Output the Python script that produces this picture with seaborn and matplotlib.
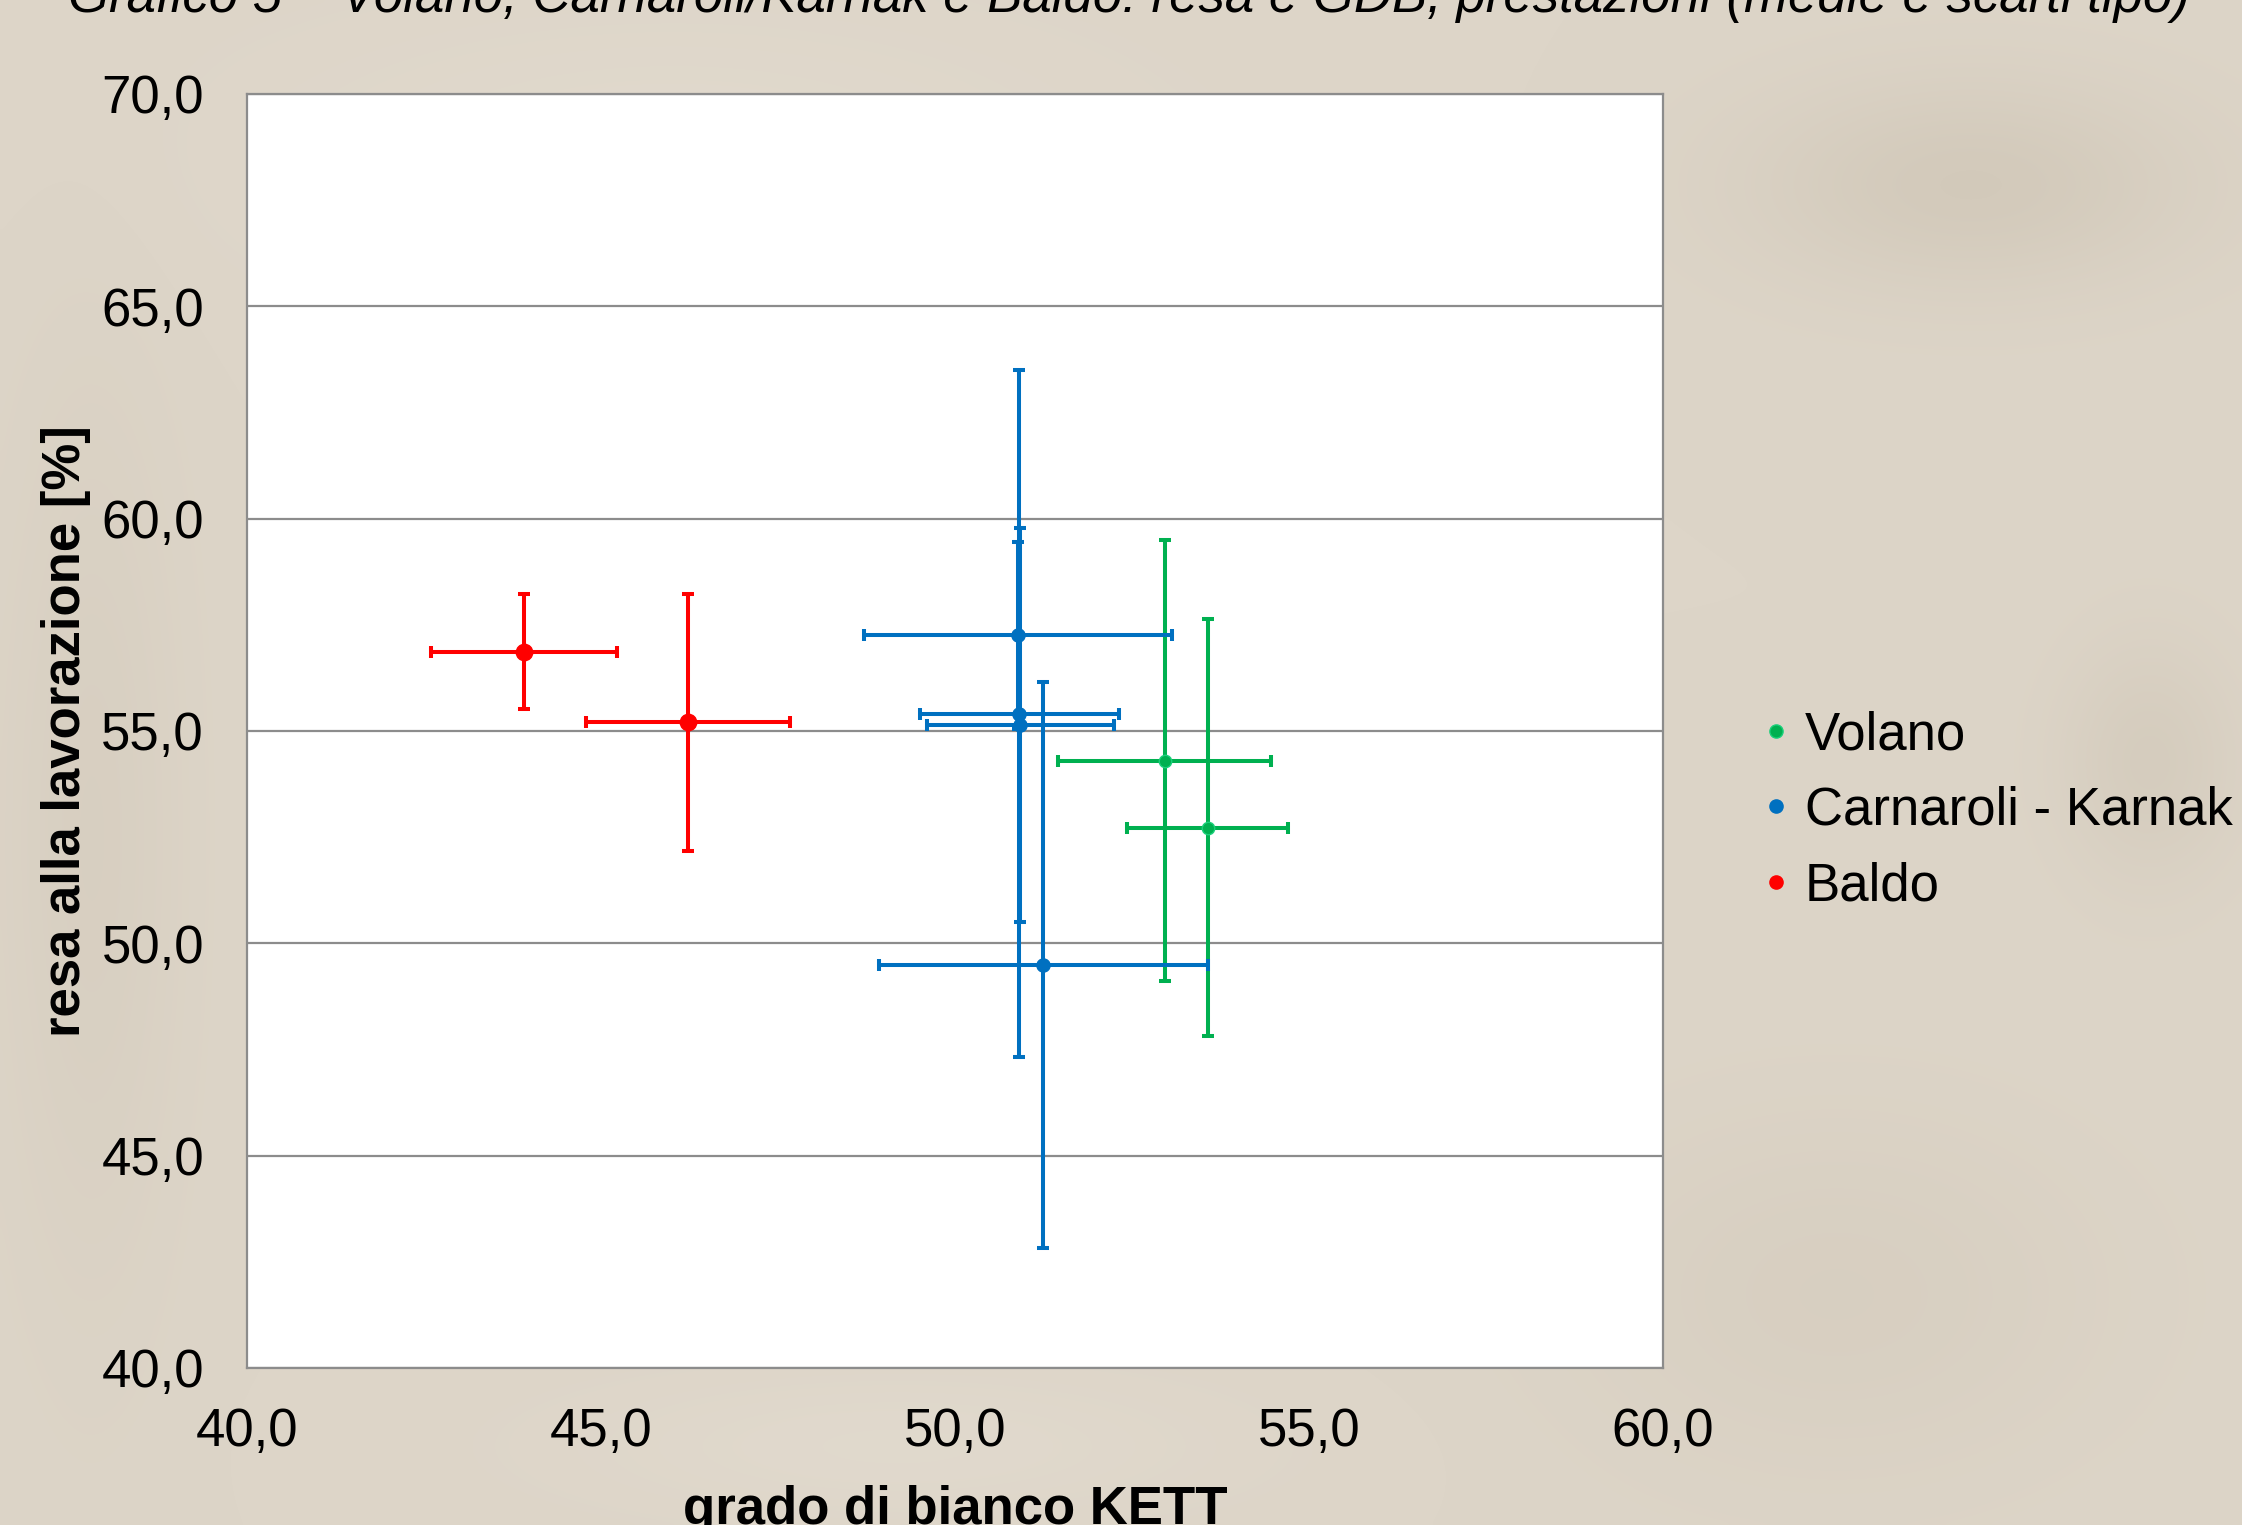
import matplotlib
matplotlib.use("Agg")
import matplotlib.pyplot as plt
from matplotlib.lines import Line2D
from matplotlib.ticker import FuncFormatter, MultipleLocator
import numpy as np
import pandas as pd
import seaborn as sns

# Means and standard deviations per sample
series = ["Volano", "Volano",
          "Carnaroli - Karnak", "Carnaroli - Karnak", "Carnaroli - Karnak", "Carnaroli - Karnak",
          "Baldo", "Baldo"]
gdb_mean = [52.96, 53.57, 50.89, 50.91, 50.92, 51.25, 43.91, 46.23]
gdb_sd = [1.51, 1.14, 2.18, 1.41, 1.32, 2.32, 1.31, 1.44]
resa_mean = [54.30, 52.72, 57.25, 55.40, 55.14, 49.49, 56.87, 55.20]
resa_sd = [5.20, 4.91, 2.21, 8.09, 4.65, 6.66, 1.35, 3.03]

series_order = ["Volano", "Carnaroli - Karnak", "Baldo"]
palette = {"Volano": "#00B050", "Carnaroli - Karnak": "#0070C0", "Baldo": "#FF0000"}
edge = {"Volano": "#19D07A", "Carnaroli - Karnak": "#0070C0", "Baldo": "#FF0000"}
marker_area = {"Volano": 80, "Carnaroli - Karnak": 90, "Baldo": 140}

title = "Grafico 5 – Volano, Carnaroli/Karnak e Baldo: resa e GDB, prestazioni (medie e scarti tipo)"
xlabel = "grado di bianco KETT"
ylabel = "resa alla lavorazione [%]"

df = pd.DataFrame({"serie": series, "gdb": gdb_mean, "gdb_sd": gdb_sd,
                   "resa": resa_mean, "resa_sd": resa_sd})

sns.set_theme(style="white")
plt.rcParams["font.family"] = ["Liberation Sans", "DejaVu Sans"]
plt.rcParams["text.color"] = "black"
plt.rcParams["axes.labelcolor"] = "black"

bg = "#DDD5C8"
fig = plt.figure(figsize=(22.42, 15.25), dpi=100, facecolor=bg)

# soft, stone-like beige backdrop
bax = fig.add_axes([0, 0, 1, 1], zorder=-10)
yy, xx = np.mgrid[0:1:300j, 0:1:440j]
base = np.array([221, 213, 200], dtype=float) / 255
shade = np.zeros_like(xx)
for cx, cy, sx, sy, amp in [(0.88, 0.12, 0.10, 0.07, -0.04),
                            (0.96, 0.50, 0.04, 0.08, -0.03),
                            (0.04, 0.55, 0.04, 0.30, -0.02),
                            (0.40, 0.95, 0.15, 0.05, 0.015),
                            (0.82, 0.85, 0.12, 0.12, -0.02),
                            (0.30, 0.10, 0.20, 0.10, 0.015)]:
    shade += amp * np.exp(-(((xx - cx) / sx) ** 2 + ((yy - cy) / sy) ** 2))
img = np.clip(base[None, None, :] + shade[..., None] * np.array([1.0, 1.1, 1.3]), 0, 1)
bax.imshow(img, extent=(0, 1, 0, 1), origin="upper", aspect="auto",
           interpolation="bicubic")
bax.set_axis_off()

ax = fig.add_axes([0.1102, 0.1030, 0.6315, 0.8354])
ax.set_facecolor("white")

# error bars first, series by series, then the points on top
for i, s in enumerate(series_order):
    sub = df[df["serie"] == s]
    ax.errorbar(sub["gdb"], sub["resa"], xerr=sub["gdb_sd"], yerr=sub["resa_sd"],
                fmt="none", ecolor=palette[s], elinewidth=2.9, capsize=4.5,
                capthick=2.9, zorder=3 + i)
    sns.scatterplot(data=sub, x="gdb", y="resa", color=palette[s],
                    edgecolor=edge[s], linewidth=1.0, s=marker_area[s],
                    ax=ax, zorder=3.5 + i, legend=False)

ax.set_xlim(40, 60)
ax.set_ylim(40, 70)
ax.xaxis.set_major_locator(MultipleLocator(5))
ax.yaxis.set_major_locator(MultipleLocator(5))
comma = FuncFormatter(lambda v, p: f"{v:.1f}".replace(".", ","))
ax.xaxis.set_major_formatter(comma)
ax.yaxis.set_major_formatter(comma)

ax.grid(axis="y", color="#8C8C8C", linewidth=1.6, zorder=1)
ax.grid(axis="x", visible=False)
ax.set_axisbelow(True)
for sp in ax.spines.values():
    sp.set_color("#8C8C8C")
    sp.set_linewidth(1.6)

ax.tick_params(axis="both", which="major", direction="out", length=11,
               width=1.6, color="#8C8C8C", labelsize=38, labelcolor="black")
ax.tick_params(axis="x", pad=17)
ax.tick_params(axis="y", pad=20)

ax.set_xlabel(xlabel, fontsize=38, fontweight="bold", color="black")
ax.set_ylabel(ylabel, fontsize=38, fontweight="bold", color="black")
ax.xaxis.set_label_coords(0.5, -0.092)
ax.yaxis.set_label_coords(-0.110, 0.5)

fig.text(0.0305, 0.992, title, fontsize=38, style="italic", ha="left",
         va="baseline", color="black")

handles = [Line2D([0], [0], marker="o", linestyle="none", markersize=9.5,
                  markerfacecolor=palette[s], markeredgecolor=edge[s])
           for s in series_order]
fig.legend(handles, series_order, loc="upper left",
           bbox_to_anchor=(0.778, 0.548), frameon=False, fontsize=38,
           handlelength=0.4, handletextpad=0.35, labelspacing=0.48,
           borderaxespad=0, labelcolor="black")

fig.savefig("out.png", dpi=100, facecolor=bg)
